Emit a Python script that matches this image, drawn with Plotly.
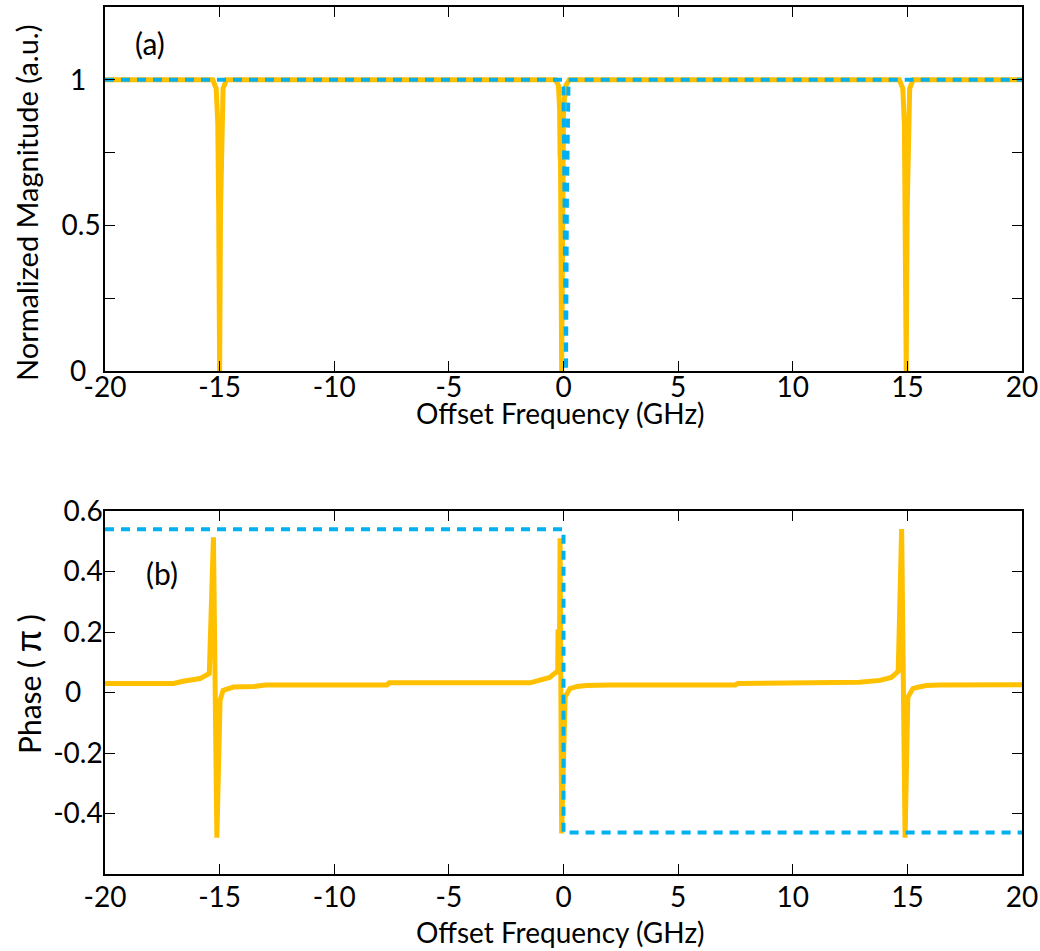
import plotly.graph_objects as go
from plotly.subplots import make_subplots

# ---------------- data ----------------
# Panel (a): normalized magnitude
mag_orange_x = [-20, -15.3, -15.15, -15.08, -15.04, -15.0, -14.96, -14.92, -14.85, -14.7,
                -0.35, -0.22, -0.17, -0.15, -0.13, -0.08, -0.05, 0.0, 0.1, 0.25,
                14.65, 14.8, 14.87, 14.91, 14.95, 14.99, 15.03, 15.1, 15.25, 20]
mag_orange_y = [1, 1, 0.97, 0.85, 0.55, 0.0, 0.55, 0.85, 0.97, 1,
                1, 0.98, 0.9, 0.74, 0.72, 0.0, 0.6, 0.9, 0.98, 1,
                1, 0.97, 0.85, 0.55, 0.0, 0.55, 0.85, 0.97, 1, 1]
mag_blue_x = [-20, -0.05, 0.0, 0.05, 0.11, 0.15, 0.22, 20]
mag_blue_y = [1, 1, 0.97, 0.6, 0.0, 0.6, 1, 1]

# Panel (b): phase (in units of pi)
ph_orange_x = [-20, -17.0, -16.6, -15.85, -15.45, -15.27, -15.12, -14.98, -14.85, -14.69,
               -14.4, -13.5, -13.0, -7.7, -7.6, -1.46, -1.0, -0.6, -0.37, -0.25,
               -0.24, -0.17, -0.15, -0.08, 0.07, 0.28, 0.6, 1.0, 2.0, 7.5,
               7.6, 12.9, 13.8, 14.3, 14.5, 14.6, 14.75, 14.9, 15.02, 15.24,
               15.5, 15.84, 16.4, 20]
ph_orange_y = [0.03, 0.03, 0.037, 0.046, 0.063, 0.513, -0.48, -0.026, 0.007, 0.012,
               0.018, 0.02, 0.025, 0.025, 0.032, 0.032, 0.04, 0.05, 0.064, 0.07,
               0.2, 0.2, 0.51, -0.466, -0.015, 0.013, 0.02, 0.023, 0.025, 0.025,
               0.03, 0.034, 0.04, 0.05, 0.063, 0.07, 0.54, -0.48, -0.016, 0.013,
               0.018, 0.023, 0.025, 0.026]
ph_blue_x = [-20, 0, 0, 20]
ph_blue_y = [0.54, 0.54, -0.463, -0.463]

x_ticks = [-20, -15, -10, -5, 0, 5, 10, 15, 20]
x_tick_text = ["-20", "-15", "-10", "-5", "0", "5", "10", "15", "20"]
a_y_ticks = [0, 0.25, 0.5, 0.75, 1]
a_y_text = ["0\u00a0\u00a0", "", "0.5", "", "1\u00a0\u00a0"]
b_y_ticks = [-0.4, -0.2, 0, 0.2, 0.4, 0.6]
b_y_text = ["-0.4", "-0.2", "0\u00a0\u00a0\u00a0", "0.2", "0.4", "0.6"]

ORANGE = "#FFC000"
BLUE = "#00B0F0"
FONT = "Lato"

# ---------------- geometry ----------------
W, H = 1040, 951
L, R, T, B = 105, 1022, 7, 874


def px(xp):
    return (xp - L) / (R - L)


def py(yp):
    return (B - yp) / (B - T)


fig = make_subplots(rows=2, cols=1, vertical_spacing=0.0)

fig.add_trace(go.Scatter(x=mag_orange_x, y=mag_orange_y, mode="lines",
                         line=dict(color=ORANGE, width=5), showlegend=False), row=1, col=1)
fig.add_trace(go.Scatter(x=mag_blue_x, y=mag_blue_y, mode="lines",
                         line=dict(color=BLUE, width=4, dash="9px,7px"), showlegend=False), row=1, col=1)
fig.add_trace(go.Scatter(x=ph_orange_x, y=ph_orange_y, mode="lines",
                         line=dict(color=ORANGE, width=5), showlegend=False), row=2, col=1)
fig.add_trace(go.Scatter(x=ph_blue_x, y=ph_blue_y, mode="lines",
                         line=dict(color=BLUE, width=4, dash="9px,7px"), showlegend=False), row=2, col=1)

axis_common = dict(showline=True, linecolor="black", linewidth=1.5, mirror="ticks",
                   ticks="inside", ticklen=10, tickwidth=1.2, tickcolor="black",
                   showgrid=False, zeroline=False, automargin=False,
                   tickfont=dict(family=FONT, size=28, color="black"))

fig.update_layout(
    width=W, height=H,
    margin=dict(l=L, r=W - R, t=T, b=H - B, autoexpand=False),
    plot_bgcolor="white", paper_bgcolor="white",
    font=dict(family=FONT, color="black"),
    xaxis=dict(domain=[0, 1], range=[-20, 20], tickvals=x_ticks, ticktext=x_tick_text,
               ticklabelstandoff=-9, **axis_common),
    yaxis=dict(domain=[py(371), py(7)], range=[0, 1.25], tickvals=a_y_ticks, ticktext=a_y_text,
               ticklabelstandoff=-3, **axis_common),
    xaxis2=dict(domain=[0, 1], range=[-20, 20], tickvals=x_ticks, ticktext=x_tick_text,
                ticklabelstandoff=-2, **axis_common),
    yaxis2=dict(domain=[0, py(511)], range=[-0.6, 0.6], tickvals=b_y_ticks, ticktext=b_y_text,
                ticklabelstandoff=-5, **axis_common),
)

title_font = dict(family=FONT, size=28, color="black")
tag_font = dict(family=FONT, size=30, color="black")
annotations = [
    dict(text="Offset Frequency (GHz)", x=px(560), y=py(413), xref="paper", yref="paper",
         showarrow=False, font=title_font, xanchor="center", yanchor="middle"),
    dict(text="Offset Frequency (GHz)", x=px(560), y=py(932), xref="paper", yref="paper",
         showarrow=False, font=title_font, xanchor="center", yanchor="middle"),
    dict(text="Normalized Magnitude (a.u.)", x=px(27), y=py(203), xref="paper", yref="paper",
         showarrow=False, font=dict(family=FONT, size=29, color="black"), textangle=-90,
         xanchor="center", yanchor="middle"),
    dict(text="Phase ( <span style='font-size:36px'>π</span> )", x=px(27), y=py(684),
         xref="paper", yref="paper",
         showarrow=False, font=dict(family=FONT, size=30, color="black"), textangle=-90,
         xanchor="center", yanchor="middle"),
    dict(text="(a)", x=px(150), y=py(43), xref="paper", yref="paper",
         showarrow=False, font=tag_font, xanchor="center", yanchor="middle"),
    dict(text="(b)", x=px(162), y=py(573), xref="paper", yref="paper",
         showarrow=False, font=tag_font, xanchor="center", yanchor="middle"),
]
fig.update_layout(annotations=annotations)

fig.write_html("out.html")
